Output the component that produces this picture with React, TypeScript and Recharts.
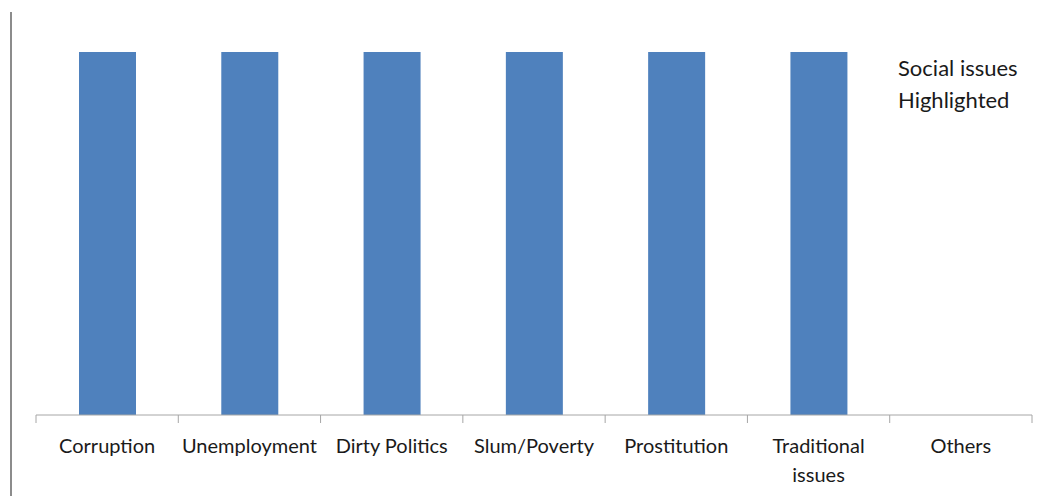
import React from 'react';
import { BarChart, Bar, XAxis, YAxis } from 'recharts';

const CATEGORIES = ['Corruption', 'Unemployment', 'Dirty Politics', 'Slum/Poverty', 'Prostitution', 'Traditional issues', 'Others'];
const HIGHLIGHTED = [1, 1, 1, 1, 1, 1, 0];

const SERIES_NAME = 'Social issues Highlighted';
const BAR_COLOR = '#4F81BD';
const AXIS_COLOR = '#A6A6A6';
const FONT = 'Lato, "Open Sans", sans-serif';
const TICK_SIZE = 8;
const TICK_MARGIN = 2;

const data = CATEGORIES.map((name, i) => ({ name, value: HIGHLIGHTED[i] }));

// long labels wrap onto two lines, like the spreadsheet does
const splitLabel = (label: string): string[] => (label.length > 15 ? label.split(' ') : [label]);

// Excel puts the tick marks between categories, so draw them at the band edges
const CategoryTick = (props: any) => {
  const { x, y, payload, index, width, visibleTicksCount } = props;
  const half = payload?.offset || width / (2 * visibleTicksCount);
  const axisY = y - TICK_SIZE - TICK_MARGIN;
  const lines = splitLabel(String(payload.value));
  const isLast = index === visibleTicksCount - 1;
  return (
    <g>
      <line x1={x - half} x2={x - half} y1={axisY} y2={axisY + TICK_SIZE} stroke={AXIS_COLOR} />
      {isLast && <line x1={x + half} x2={x + half} y1={axisY} y2={axisY + TICK_SIZE} stroke={AXIS_COLOR} />}
      <text x={x} y={y + 28} textAnchor="middle" style={{ fontFamily: FONT, fontSize: 20, fill: '#1a1a1a' }}>
        {lines.map((line, i) => (
          <tspan key={i} x={x} dy={i === 0 ? 0 : 29}>
            {line}
          </tspan>
        ))}
      </text>
    </g>
  );
};

export default function App() {
  return (
    <div style={{ position: 'absolute', left: 0, top: 0, width: 1049, height: 496, background: '#fff' }}>
      {/* frame line on the left edge of the picture */}
      <div style={{ position: 'absolute', left: 10, top: 12, width: 2, height: 484, background: '#8c8c8c' }} />
      <BarChart width={1049} height={496} data={data} margin={{ top: 52, right: 17, bottom: 0, left: 36 }}>
        <XAxis
          dataKey="name"
          height={81}
          axisLine={{ stroke: AXIS_COLOR }}
          tickLine={false}
          tickSize={TICK_SIZE}
          tickMargin={TICK_MARGIN}
          interval={0}
          tick={<CategoryTick />}
        />
        <YAxis hide domain={[0, 1]} />
        <Bar dataKey="value" name={SERIES_NAME} fill={BAR_COLOR} barSize={57} isAnimationActive={false} />
      </BarChart>
      <div
        style={{
          position: 'absolute', left: 898, top: 52, width: 150,
          fontFamily: FONT, fontSize: 22, color: '#1a1a1a', lineHeight: '32px',
        }}
      >
        {SERIES_NAME}
      </div>
    </div>
  );
}
